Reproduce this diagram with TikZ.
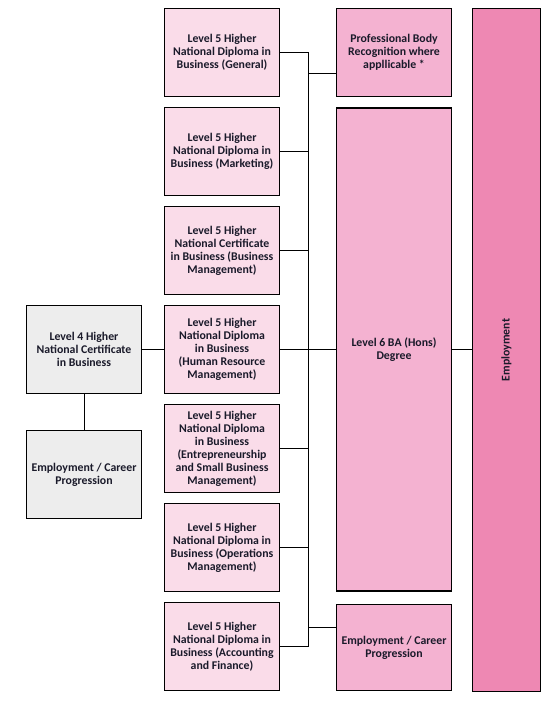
\documentclass[tikz,border=0pt]{standalone}
\usepackage{fontspec}
\setmainfont{Carlito}
\usepackage{xcolor}
\usepackage{tikz}
\usetikzlibrary{positioning}
\definecolor{palepink}{HTML}{FADCE9}
\definecolor{midpink}{HTML}{F4B2D1}
\definecolor{deeppink}{HTML}{EE88B3}
\definecolor{greybox}{HTML}{EDEDED}
\definecolor{inktext}{HTML}{1A1A2A}

\begin{document}
\begin{tikzpicture}[
    x=1pt,y=-1pt,
    node distance=10pt and 22pt,
    box/.style={rectangle,draw,line width=1.3pt,minimum width=114.7pt,minimum height=87.7pt,
                inner sep=1pt,align=center,text=inktext,
                font=\fontsize{11.8}{13}\selectfont\bfseries},
    lvfive/.style={box,fill=palepink},
    lvsix/.style={box,fill=midpink},
    grey/.style={box,fill=greybox},
    link/.style={line width=1pt}
]
\useasboundingbox (0,0) rectangle (557,703);

\node[lvfive] (gen) at (222,52.5) {Level 5 Higher\\National Diploma in\\Business (General)};
\node[lvfive,below=of gen] (mkt) {Level 5 Higher\\National Diploma in\\Business (Marketing)};
\node[lvfive,below=of mkt] (bman) {Level 5 Higher\\National Certificate\\in Business (Business\\Management)};
\node[lvfive,below=of bman] (hrm) {Level 5 Higher\\National Diploma\\in Business\\(Human Resource\\Management)};
\node[lvfive,below=of hrm] (ent) {Level 5 Higher\\National Diploma\\in Business\\(Entrepreneurship\\and Small Business\\Management)};
\node[lvfive,below=of ent] (ops) {Level 5 Higher\\National Diploma in\\Business (Operations\\Management)};
\node[lvfive,below=of ops] (acc) {Level 5 Higher\\National Diploma in\\Business (Accounting\\and Finance)};

\node[grey,left=of hrm] (lvfour) {Level 4 Higher\\National Certificate\\in Business};
\node[grey,below=36pt of lvfour] (empl) {Employment / Career\\Progression};

\node[lvsix] (prof) at (394,52.5) {Professional Body\\Recognition where\\appllicable *};
\node[lvsix,minimum height=482.7pt] (hons) at (394,349.5) {Level 6 BA (Hons)\\Degree};
\node[lvsix,minimum height=86pt] (empr) at (394,647.5) {Employment / Career\\Progression};

\node[box,fill=deeppink,minimum width=682.7pt,minimum height=67.7pt,rotate=90] (emp) at (506.5,350) {Employment};

\coordinate (ttop) at (308,52.5);
\coordinate (tbot) at (308,646.5);
\coordinate (tprof) at (308,74);
\coordinate (temp) at (308,627);

\draw[link] (ttop) -- (tbot);
\foreach \b in {gen,mkt,bman,hrm,ent,ops,acc}
  \draw[link] (\b.east) -- (\b.east -| ttop);
\draw[link] (tprof) -- (tprof -| prof.west);
\draw[link] (temp) -- (temp -| empr.west);
\draw[link] (hrm.east -| ttop) -- (hrm.east -| hons.west);
\draw[link] (hrm.east -| hons.east) -- (hrm.east -| emp.north);
\draw[link] (lvfour) -- (hrm);
\draw[link] (lvfour) -- (empl);
\end{tikzpicture}
\end{document}
